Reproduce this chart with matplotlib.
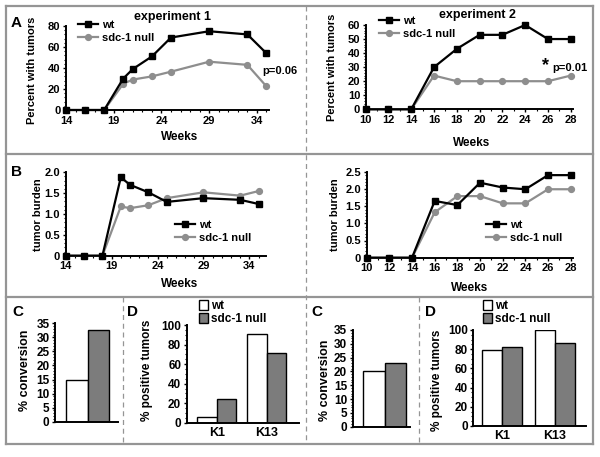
import matplotlib.pyplot as plt
from matplotlib.lines import Line2D
from matplotlib.patches import Patch
from matplotlib.ticker import MultipleLocator

plt.rcParams['font.family'] = ['Liberation Sans', 'DejaVu Sans']
plt.rcParams['font.weight'] = 'bold'
plt.rcParams['axes.labelweight'] = 'bold'

W, H = 600, 457

# experiment 1
weeks1 = [14, 16, 18, 20, 21, 23, 25, 29, 33, 35]
pct_wt1 = [0, 0, 0, 30, 39, 51, 69, 75, 72, 54]
pct_null1 = [0, 0, 0, 25, 29, 32, 36.5, 46, 43, 22.5]
burden_wt1 = [0, 0, 0, 1.88, 1.70, 1.52, 1.29, 1.38, 1.34, 1.24]
burden_null1 = [0, 0, 0, 1.18, 1.14, 1.21, 1.38, 1.52, 1.44, 1.55]
conv1 = [15, 32.6]
k_wt1 = [5.5, 90.8]
k_null1 = [23.9, 71.7]

# experiment 2
weeks2 = [10, 12, 14, 16, 18, 20, 22, 24, 26, 28]
pct_wt2 = [0, 0, 0, 30, 43, 53, 53, 60, 50, 50]
pct_null2 = [0, 0, 0, 24, 20, 20, 20, 20, 20, 24]
burden_wt2 = [0, 0, 0, 1.65, 1.53, 2.18, 2.04, 1.99, 2.40, 2.40]
burden_null2 = [0, 0, 0, 1.32, 1.79, 1.79, 1.58, 1.58, 1.99, 1.99]
conv2 = [20, 23]
k_wt2 = [79.2, 100]
k_null2 = [81.9, 86.1]

markers = ['K1', 'K13']
labels = ['wt', 'sdc-1 null']

GRAY_LINE = '#8e8e8e'
GRAY_BAR = '#7c7c7c'
FRAME = '#959595'

fig = plt.figure(figsize=(W / 100, H / 100), dpi=100)


def px_axes(left, top, right, bottom):
    return fig.add_axes([left / W, 1 - bottom / H, (right - left) / W, (bottom - top) / H])


def fx(x):
    return x / W


def fy(y):
    return 1 - y / H


def style(ax, fs=8):
    for s in ['top', 'right']:
        ax.spines[s].set_visible(False)
    for s in ['left', 'bottom']:
        ax.spines[s].set_linewidth(1.4)
    ax.tick_params(which='major', length=2.5, width=1, pad=1.5, labelsize=fs)
    ax.tick_params(which='minor', length=1.5, width=0.8)


def line_panel(ax, weeks, wt, null, xlim, ylim, xmaj, ymaj, ymin, leg_xy):
    ax.plot(weeks, wt, '-s', color='black', lw=1.6, ms=4, clip_on=False, zorder=4, label=labels[0])
    ax.plot(weeks, null, '-o', color=GRAY_LINE, mec=GRAY_LINE, lw=1.6, ms=4.2, clip_on=False, zorder=3, label=labels[1])
    ax.set_xlim(*xlim)
    ax.set_ylim(*ylim)
    ax.xaxis.set_major_locator(MultipleLocator(xmaj))
    ax.xaxis.set_minor_locator(MultipleLocator(1))
    ax.yaxis.set_major_locator(MultipleLocator(ymaj))
    ax.yaxis.set_minor_locator(MultipleLocator(ymin))
    style(ax)
    ax.legend(loc='upper left', bbox_to_anchor=(fx(leg_xy[0]), fy(leg_xy[1])),
              bbox_transform=fig.transFigure, frameon=False, fontsize=8,
              handlelength=1.8, handletextpad=0.35, borderpad=0, borderaxespad=0,
              labelspacing=0.25)


# ---- panel A ----
a1 = px_axes(66, 26, 269.3, 110)
line_panel(a1, weeks1, pct_wt1, pct_null1, (14, 35.3), (0, 80), 5, 20, 4, (78, 20))
a1.set_xticks([14, 19, 24, 29, 34])

a2 = px_axes(365.7, 25, 573, 109.3)
line_panel(a2, weeks2, pct_wt2, pct_null2, (10, 28.2), (0, 60), 2, 10, 2, (379, 16))

# ---- panel B ----
b1 = px_axes(65.7, 172.3, 265.9, 255.7)
line_panel(b1, weeks1, burden_wt1, burden_null1, (14, 35.8), (0, 2.0), 5, 0.5, 0.1, (175, 220))
b1.set_xticks([14, 19, 24, 29, 34])
b1.set_yticks([0, 0.5, 1.0, 1.5, 2.0], ['0', '0.5', '1.0', '1.5', '2.0'])

b2 = px_axes(366.7, 171.7, 573, 257.7)
line_panel(b2, weeks2, burden_wt2, burden_null2, (10, 28.2), (0, 2.5), 2, 0.5, 0.1, (486, 220))
b2.set_yticks([0, 0.5, 1.0, 1.5, 2.0, 2.5], ['0', '0.5', '1.0', '1.5', '2.0', '2.5'])


# ---- panels C and D ----
def conv_panel(ax, vals, xlim):
    ax.bar([0, 1], vals, width=1, color=['white', GRAY_BAR], edgecolor='black', lw=1)
    ax.set_xlim(*xlim)
    ax.set_ylim(0, 35)
    ax.set_xticks([])
    ax.yaxis.set_major_locator(MultipleLocator(5))
    ax.yaxis.set_minor_locator(MultipleLocator(1))
    style(ax, 8.5)


def marker_panel(ax, wt, null, xlim, w, leg_xy):
    pos = [0, 1]
    ax.bar([p - w / 2 for p in pos], wt, width=w, color='white', edgecolor='black', lw=1)
    ax.bar([p + w / 2 for p in pos], null, width=w, color=GRAY_BAR, edgecolor='black', lw=1)
    ax.set_xlim(*xlim)
    ax.set_ylim(0, 100)
    ax.set_xticks(pos, markers)
    ax.yaxis.set_major_locator(MultipleLocator(20))
    ax.yaxis.set_minor_locator(MultipleLocator(5))
    style(ax, 8.5)
    ax.tick_params(axis='x', length=0, pad=3, labelsize=9)
    handles = [Patch(facecolor='white', edgecolor='black', lw=1),
               Patch(facecolor=GRAY_BAR, edgecolor='black', lw=1)]
    ax.legend(handles, labels, loc='upper left', bbox_to_anchor=(fx(leg_xy[0]), fy(leg_xy[1])),
              bbox_transform=fig.transFigure, frameon=False, fontsize=8.5,
              handlelength=0.75, handleheight=0.9, handletextpad=0.3, borderpad=0,
              borderaxespad=0, labelspacing=0.1)


c1 = px_axes(55, 323.3, 118, 421.7)
conv_panel(c1, conv1, (-1.04, 1.92))
d1 = px_axes(186.7, 325, 299, 422.7)
marker_panel(d1, k_wt1, k_null1, (-0.6, 1.65), 0.385, (199, 300))

c2 = px_axes(352.7, 330, 410, 426.7)
conv_panel(c2, conv2, (-0.97, 1.67))
d2 = px_axes(473.3, 330, 586, 426)
marker_panel(d2, k_wt2, k_null2, (-0.55, 1.59), 0.38, (483, 300))

# ---- texts ----
def txt(x, y, s, fs=8, **kw):
    fig.text(fx(x), fy(y), s, fontsize=fs, fontweight='bold', ha=kw.pop('ha', 'center'),
             va=kw.pop('va', 'center'), **kw)


txt(16, 23, 'A', 11)
txt(17, 172, 'B', 11)
txt(18, 312, 'C', 11)
txt(133, 312, 'D', 11)
txt(317, 312, 'C', 11)
txt(430, 312, 'D', 11)

txt(173, 17, 'experiment 1', 9)
txt(477, 15, 'experiment 2', 9)
txt(280, 71, 'p=0.06', 8)
txt(570, 68, 'p=0.01', 8)
txt(546, 66, '*', 13)

txt(180, 137, 'Weeks', 8.5)
txt(472, 143, 'Weeks', 8.5)
txt(180, 284, 'Weeks', 8.5)
txt(470, 288, 'Weeks', 8.5)

txt(32, 70, 'Percent with tumors', 8, rotation=90)
txt(332, 67, 'Percent with tumors', 8, rotation=90)
txt(38, 215, 'tumor burden', 8, rotation=90)
txt(335, 215, 'tumor burden', 8, rotation=90)
txt(25, 370, '% conversion', 9, rotation=90)
txt(325, 380, '% conversion', 9, rotation=90)
txt(147, 370, '% positive tumors', 8.5, rotation=90)
txt(437, 380, '% positive tumors', 8.5, rotation=90)


# ---- frame ----
def frame_line(x0, y0, x1, y1, **kw):
    fig.add_artist(Line2D([fx(x0), fx(x1)], [fy(y0), fy(y1)], transform=fig.transFigure,
                          color=FRAME, **kw))


frame_line(6, 6, 593, 6, lw=1.6)
frame_line(6, 444, 593, 444, lw=1.6)
frame_line(6, 6, 6, 444, lw=1.6)
frame_line(593, 6, 593, 444, lw=1.6)
frame_line(6, 154, 593, 154, lw=1.6)
frame_line(6, 297, 593, 297, lw=1.6)
frame_line(306, 6, 306, 444, lw=0.9, ls=(0, (4, 3)))
frame_line(123, 297, 123, 444, lw=0.9, ls=(0, (4, 3)))
frame_line(419, 297, 419, 444, lw=0.9, ls=(0, (4, 3)))

fig.savefig('out.png', dpi=100)
